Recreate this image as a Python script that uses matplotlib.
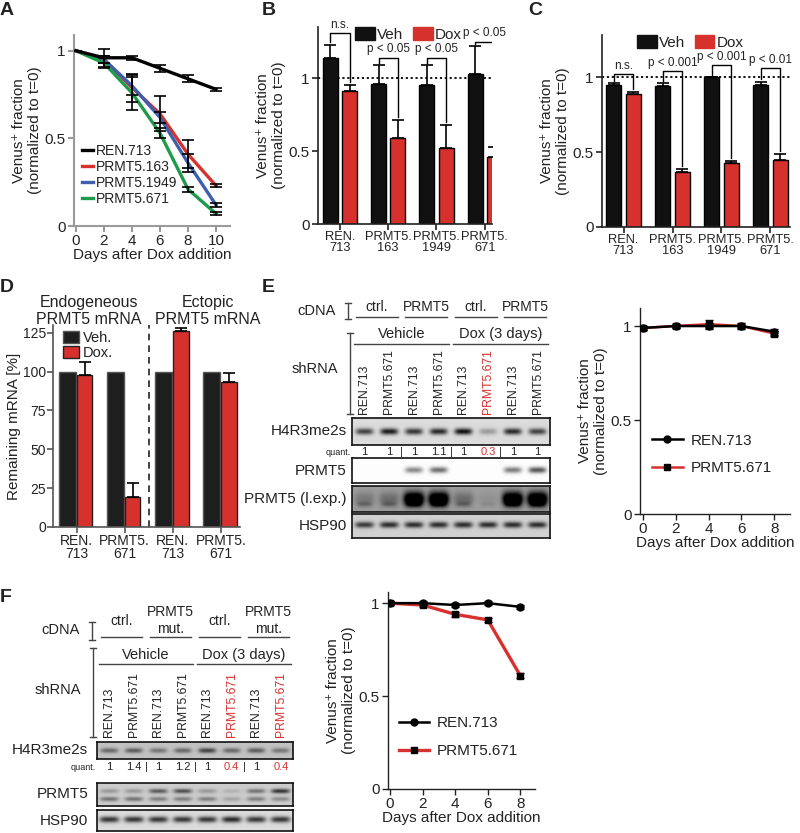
import numpy as np
import matplotlib
matplotlib.use("Agg")
import matplotlib.pyplot as plt
from matplotlib.patches import Patch
from matplotlib.lines import Line2D

plt.rcParams['font.family'] = ['Liberation Sans', 'DejaVu Sans']
plt.rcParams['text.color'] = '#222222'
plt.rcParams['axes.labelcolor'] = '#222222'
plt.rcParams['xtick.color'] = '#222222'
plt.rcParams['ytick.color'] = '#222222'

RED = '#d7312e'
BLUE = '#3d5fae'
GREEN = '#1e9b4a'

# ---- panel A: competition assay time course ----
a_days = [0, 2, 4, 6, 8, 10]
a_names = ["REN.713", "PRMT5.163", "PRMT5.1949", "PRMT5.671"]
a_ren = [1.0, 0.96, 0.96, 0.90, 0.84, 0.78]
a_163 = [1.0, 0.95, 0.79, 0.64, 0.41, 0.23]
a_1949 = [1.0, 0.95, 0.80, 0.62, 0.36, 0.12]
a_671 = [1.0, 0.93, 0.76, 0.53, 0.21, 0.07]
a_ren_err = [0, 0.05, 0.01, 0.02, 0.02, 0.01]
a_163_err = [0, 0.02, 0.08, 0.10, 0.08, 0.01]
a_1949_err = [0, 0.02, 0.05, 0.03, 0.05, 0.01]
a_671_err = [0, 0.03, 0.10, 0.03, 0.015, 0.01]

# ---- panels B / C: bars ----
bc_groups = ["REN.\n713", "PRMT5.\n163", "PRMT5.\n1949", "PRMT5.\n671"]
b_veh = [1.14, 0.96, 0.95, 1.03]
b_veh_err = [0.09, 0.13, 0.14, 0.19]
b_dox = [0.91, 0.59, 0.52, 0.46]
b_dox_err = [0.04, 0.12, 0.16, 0.07]
b_pvals = ["n.s.", "p < 0.05", "p < 0.05", "p < 0.05"]
b_brk = [1.31, 1.14, 1.14, 1.25]

c_veh = [0.95, 0.94, 1.00, 0.95]
c_veh_err = [0.01, 0.02, 0.0, 0.02]
c_dox = [0.89, 0.37, 0.43, 0.45]
c_dox_err = [0.01, 0.02, 0.01, 0.04]
c_pvals = ["n.s.", "p < 0.001", "p < 0.001", "p < 0.01"]
c_brk = [1.02, 1.04, 1.08, 1.06]

# ---- panel D: mRNA ----
d_groups = ["REN.\n713", "PRMT5.\n671", "REN.\n713", "PRMT5.\n671"]
d_veh = [100, 100, 100, 100]
d_dox = [98, 19, 126, 93]
d_dox_err = [8, 9, 2, 6]

# ---- panels E / F: lines ----
ef_days = [0, 2, 4, 6, 8]
e_ren = [0.99, 1.0, 1.0, 1.0, 0.97]
e_ren_err = [0.01, 0.01, 0.015, 0.01, 0.015]
e_671 = [0.99, 1.0, 1.01, 1.0, 0.96]
e_671_err = [0.01, 0.01, 0.02, 0.015, 0.015]
f_ren = [1.0, 1.0, 0.99, 1.0, 0.98]
f_ren_err = [0.01, 0.01, 0.01, 0.01, 0.01]
f_671 = [1.0, 0.99, 0.94, 0.91, 0.61]
f_671_err = [0.01, 0.01, 0.015, 0.01, 0.015]

# ---- blots ----
lanes = ["REN.713", "PRMT5.671"] * 4
e_cdna = ["ctrl.", "PRMT5", "ctrl.", "PRMT5"]
f_cdna = ["ctrl.", "PRMT5\nmut.", "ctrl.", "PRMT5\nmut."]
treat = ["Vehicle", "Dox (3 days)"]
e_red_lanes = [5]
f_red_lanes = [5, 7]
e_quant = ["1", "1", "1", "1.1", "1", "0.3", "1", "1"]
f_quant = ["1", "1.4", "1", "1.2", "1", "0.4", "1", "0.4"]
e_h4 = [0.6, 0.75, 0.65, 0.7, 0.8, 0.25, 0.7, 0.6]
e_prmt5 = [0, 0, 0.45, 0.55, 0, 0, 0.5, 0.65]
e_lexp_hi = [0.15, 0.2, 0.95, 0.95, 0.2, 0.05, 0.95, 0.95]
e_lexp_lo = [0.15, 0.15, 0.3, 0.3, 0.15, 0.05, 0.3, 0.3]
e_hsp90 = [0.6, 0.65, 0.65, 0.65, 0.65, 0.65, 0.65, 0.65]
f_h4 = [0.35, 0.4, 0.3, 0.35, 0.5, 0.35, 0.4, 0.3]
f_prmt5_hi = [0.2, 0.2, 0.45, 0.5, 0.2, 0.1, 0.35, 0.6]
f_prmt5_lo = [0.35, 0.35, 0.3, 0.3, 0.3, 0.15, 0.3, 0.25]
f_hsp90 = [0.65, 0.65, 0.65, 0.65, 0.65, 0.7, 0.65, 0.65]

W, H = 800, 833
fig = plt.figure(figsize=(W / 100, H / 100), dpi=100)


def px_axes(l, t, r, b):
    return fig.add_axes([l / W, 1 - b / H, (r - l) / W, (b - t) / H])


def style(ax, color='#222222', lw=1.2):
    for s in ['top', 'right']:
        ax.spines[s].set_visible(False)
    for s in ['left', 'bottom']:
        ax.spines[s].set_color(color)
        ax.spines[s].set_linewidth(lw)
    ax.tick_params(direction='out', length=4, width=lw, color=color, labelsize=11, pad=2)


ylab = "Venus\u207a fraction\n(normalized to t=0)"

# ---- A ----
ax = px_axes(74, 35, 230, 226)
series = [(a_ren, a_ren_err, 'k'), (a_163, a_163_err, RED),
          (a_1949, a_1949_err, BLUE), (a_671, a_671_err, GREEN)]
for (vals, err, col), name in zip(series, a_names):
    ax.plot(a_days, vals, color=col, lw=2.4, label=name, zorder=3 if col == 'k' else 2)
    ax.errorbar(a_days, vals, yerr=err, fmt='none', ecolor='k', capsize=4,
                elinewidth=1.2, capthick=1.2, zorder=4)
ax.set_xlim(-0.14, 11)
ax.set_ylim(0, 1.09)
ax.set_xticks(a_days)
ax.set_yticks([0, 0.5, 1])
ax.set_yticklabels(["0", "0.5", "1"])
style(ax, color='#9a9a9a', lw=1.5)
ax.set_xlabel("Days after Dox addition", fontsize=11, labelpad=0)
ax.set_ylabel(ylab, fontsize=11, labelpad=2)
ax.legend(frameon=False, loc='lower left', bbox_to_anchor=(0.0, 0.06), fontsize=10,
          handlelength=0.8, handletextpad=0.15, labelspacing=0.15, borderaxespad=0.2)


def bar_panel(box, veh, veh_err, dox, dox_err, pvals, brk, ymax, xlim, leg_x):
    ax = px_axes(*box)
    x = np.arange(len(veh))
    ax.bar(x - 0.2, veh, width=0.31, color='#111111', edgecolor='k', lw=1, zorder=2)
    ax.bar(x + 0.2, dox, width=0.31, color=RED, edgecolor='k', lw=1, zorder=2)
    ax.errorbar(x - 0.2, veh, yerr=[np.zeros(len(veh)), veh_err], fmt='none', ecolor='k',
                capsize=4, elinewidth=1.2, capthick=1.2, zorder=3)
    ax.errorbar(x + 0.2, dox, yerr=[np.zeros(len(dox)), dox_err], fmt='none', ecolor='k',
                capsize=4, elinewidth=1.2, capthick=1.2, zorder=3)
    ax.axhline(1, ls=(0, (1.2, 1.5)), color='k', lw=1.3, zorder=1)
    for i in range(len(veh)):
        lt = veh[i] + veh_err[i] + 0.015
        rt = dox[i] + dox_err[i] + 0.02
        ax.plot([i - 0.2, i - 0.2, i + 0.2, i + 0.2], [lt, brk[i], brk[i], rt],
                color='k', lw=1, zorder=4)
        ax.text(i, brk[i] + 0.015, pvals[i], ha='center', va='bottom', fontsize=8.5)
    ax.set_ylim(0, ymax)
    ax.set_xlim(*xlim)
    ax.set_xticks(x)
    ax.set_xticklabels(bc_groups, linespacing=0.95)
    ax.set_yticks([0, 0.5, 1])
    ax.set_yticklabels(["0", "0.5", "1"])
    style(ax)
    ax.tick_params(axis='x', labelsize=9.3, pad=1)
    ax.set_ylabel(ylab, fontsize=11, labelpad=2)
    ax.legend(handles=[Patch(fc='#111111', ec='#111111'), Patch(fc=RED, ec=RED)],
              labels=["Veh", "Dox"], ncol=2, frameon=False, loc='upper center',
              bbox_to_anchor=(leg_x, 1.03), fontsize=11, handlelength=1.3,
              handleheight=0.9, handletextpad=0.15, columnspacing=0.6, borderaxespad=0)
    return ax


bar_panel((318, 27, 492, 224), b_veh, b_veh_err, b_dox, b_dox_err, b_pvals, b_brk,
          1.35, (-0.455, 3.15), 0.52)
bar_panel((602, 35, 790, 227), c_veh, c_veh_err, c_dox, c_dox_err, c_pvals, c_brk,
          1.28, (-0.44, 3.4), 0.47)

# ---- D ----
ax = px_axes(53, 325, 240, 527)
x = np.arange(len(d_veh))
ax.bar(x - 0.19, d_veh, width=0.36, color='#1e1e1e', edgecolor='#555555', lw=1, zorder=2,
       label="Veh.")
ax.bar(x + 0.17, d_dox, width=0.32, color=RED, edgecolor='#222222', lw=1, zorder=2,
       label="Dox.")
ax.errorbar(x + 0.17, d_dox, yerr=[np.zeros(4), d_dox_err], fmt='none', ecolor='k',
            capsize=4, elinewidth=1.2, capthick=1.2, zorder=3)
ax.axvline(1.5, ls=(0, (4, 3)), color='#222222', lw=1.2)
ax.set_ylim(0, 130)
ax.set_xlim(-0.49, 3.4)
ax.set_xticks(x)
ax.set_xticklabels(d_groups, linespacing=0.95)
ax.set_yticks([0, 25, 50, 75, 100, 125])
style(ax, color='#555555')
ax.tick_params(labelsize=10, pad=1)
ax.set_ylabel("Remaining mRNA [%]", fontsize=11, labelpad=1)
ax.legend(frameon=False, loc='upper left', bbox_to_anchor=(0.02, 1.0), fontsize=10.5,
          handlelength=1.1, handleheight=0.9, handletextpad=0.3, labelspacing=0.1,
          borderaxespad=0)


def line_panel(box, ren, ren_err, sh, sh_err, xlim, ymax, leg_anchor, red_lw):
    ax = px_axes(*box)
    ax.errorbar(ef_days, sh, yerr=sh_err, color=RED, lw=red_lw, marker='s', ms=5,
                mfc='k', mec='k', ecolor='k', capsize=3, zorder=2)
    ax.errorbar(ef_days, ren, yerr=ren_err, color='k', lw=1.8, marker='o', ms=5,
                ecolor='k', capsize=3, zorder=3)
    ax.set_xlim(*xlim)
    ax.set_ylim(0, ymax)
    ax.set_xticks(ef_days)
    ax.set_yticks([0, 0.5, 1])
    ax.set_yticklabels(["0", "0.5", "1"])
    style(ax, lw=1)
    ax.set_xlabel("Days after Dox addition", fontsize=11, labelpad=0)
    ax.set_ylabel(ylab, fontsize=11, labelpad=2)
    hs = [Line2D([], [], color='k', lw=1.8, marker='o', ms=5),
          Line2D([], [], color=RED, lw=red_lw, marker='s', ms=5, mfc='k', mec='k')]
    ax.legend(hs, ["REN.713", "PRMT5.671"], frameon=False, loc='upper left',
              bbox_to_anchor=leg_anchor, fontsize=11, handlelength=2.0, handletextpad=0.5,
              labelspacing=0.9, borderaxespad=0)
    return ax


line_panel((640, 308, 790, 514), e_ren, e_ren_err, e_671, e_671_err, (-0.18, 8.96), 1.096,
           (0.04, 0.42), 1.8)
line_panel((388, 592, 535, 789), f_ren, f_ren_err, f_671, f_671_err, (-0.12, 8.9), 1.06,
           (0.03, 0.40), 2.4)


def blot(box, rows, bg):
    ax = px_axes(*box)
    xs = np.linspace(0.5, 8.5, 500)
    ys = np.linspace(0, 1, 80)
    X, Y = np.meshgrid(xs, ys)
    img = np.full(X.shape, bg)
    for yc, hw, wid, vals in rows:
        for i, v in enumerate(vals):
            img -= v * np.exp(-np.abs((X - (i + 1)) / wid) ** 4) * np.exp(-((Y - yc) / hw) ** 2)
    ax.imshow(np.clip(img, 0, 1), cmap='gray', vmin=0, vmax=1, extent=(0.5, 8.5, 0, 1),
              aspect='auto', origin='lower', interpolation='bilinear')
    ax.set_xticks([])
    ax.set_yticks([])
    for s in ax.spines.values():
        s.set_linewidth(1.2)
        s.set_color('#111111')
    return ax


def header(box, cdna, red_lanes, quant, y):
    hd = px_axes(*box)
    hd.set_xlim(0.5, 8.5)
    hd.set_ylim(box[3], box[1])
    hd.axis('off')
    pairs = np.arange(1.5, 9, 2)
    for c, lab in zip(pairs, cdna):
        lines = lab.split("\n")
        if len(lines) == 2:
            hd.text(c, y['cdna2'][0], lines[0], ha='center', va='center', fontsize=10)
            hd.text(c, y['cdna2'][1], lines[1], ha='center', va='center', fontsize=10)
        else:
            hd.text(c, y['cdna'], lab, ha='center', va='center', fontsize=10)
        hd.plot([c - 0.85, c + 0.85], [y['cline']] * 2, color='#444444', lw=1, clip_on=False)
    for c, lab in zip([2.5, 6.5], treat):
        hd.text(c, y['treat'], lab, ha='center', va='center', fontsize=10.5)
        hd.plot([c - 1.9, c + 1.9], [y['tline']] * 2, color='#444444', lw=1, clip_on=False)
    for i, lab in enumerate(lanes):
        hd.text(i + 1, y['lane'], lab, rotation=90, ha='center', va='bottom', fontsize=8.8,
                color=RED if i in red_lanes else '#222222')
    hd.text(0.45, y['quant'], "quant.", ha='right', va='center', fontsize=6.5)
    for i, q in enumerate(quant):
        hd.text(i + 1, y['quant'], q, ha='center', va='center', fontsize=8,
                color=RED if i in red_lanes else '#222222')
    for s in [2.5, 4.5, 6.5]:
        hd.text(s, y['quant'], "|", ha='center', va='center', fontsize=8)
    return hd


# ---- E blots ----
header((352, 295, 550, 560), e_cdna, e_red_lanes, e_quant,
       dict(cdna=307, cdna2=(300, 314), cline=317, treat=334, tline=344, lane=414, quant=452))
blot((352, 418, 550, 445), [(0.5, 0.12, 0.36, e_h4)], 0.86)
blot((352, 458, 550, 483), [(0.5, 0.12, 0.36, e_prmt5)], 0.99)
blot((352, 486, 550, 512), [(0.5, 0.28, 0.42, e_lexp_hi), (0.3, 0.1, 0.3, e_lexp_lo)], 0.62)
blot((352, 514, 550, 538), [(0.55, 0.13, 0.38, e_hsp90)], 0.82)

# ---- F blots ----
header((97, 600, 293, 775), f_cdna, f_red_lanes, f_quant,
       dict(cdna=621, cdna2=(612, 629), cline=637, treat=655, tline=664, lane=737, quant=767))
blot((97, 742, 293, 759), [(0.5, 0.15, 0.36, f_h4)], 0.76)
blot((97, 783, 293, 806), [(0.65, 0.1, 0.38, f_prmt5_hi), (0.3, 0.1, 0.38, f_prmt5_lo)], 0.8)
blot((97, 810, 293, 831), [(0.55, 0.15, 0.4, f_hsp90)], 0.86)

# ---- overlay text in pixel coords ----
ov = fig.add_axes([0, 0, 1, 1])
ov.set_xlim(0, W)
ov.set_ylim(H, 0)
ov.axis('off')
for lab, px, py in [("A", 0, 10), ("B", 262, 10), ("C", 528, 10), ("D", 0, 288),
                    ("E", 262, 288), ("F", 0, 598)]:
    ov.text(px, py, lab, fontsize=14, fontweight='bold', ha='left', va='center')

ov.text(89, 311, "Endogeneous\nPRMT5 mRNA", ha='center', va='center', fontsize=11.5,
        linespacing=1.25)
ov.text(208, 311, "Ectopic\nPRMT5 mRNA", ha='center', va='center', fontsize=11.5,
        linespacing=1.25)


def bracket(x, y0, y1):
    ov.plot([x, x], [y0, y1], color='#444444', lw=1)
    ov.plot([x - 3, x + 3], [y0, y0], color='#444444', lw=1)
    ov.plot([x - 3, x + 3], [y1, y1], color='#444444', lw=1)


ov.text(336, 311, "cDNA", ha='right', va='center', fontsize=10.5)
bracket(348, 303, 319)
ov.text(338, 369, "shRNA", ha='right', va='center', fontsize=10.5)
bracket(350, 333, 414)
for lab, py in [("H4R3me2s", 431), ("PRMT5", 471), ("PRMT5 (l.exp.)", 499), ("HSP90", 526)]:
    ov.text(347, py, lab, ha='right', va='center', fontsize=11)

ov.text(80, 630, "cDNA", ha='right', va='center', fontsize=10.5)
bracket(92, 622, 640)
ov.text(81, 690, "shRNA", ha='right', va='center', fontsize=10.5)
bracket(93, 648, 737)
for lab, py in [("H4R3me2s", 750), ("PRMT5", 794), ("HSP90", 821)]:
    ov.text(88, py, lab, ha='right', va='center', fontsize=11)

fig.savefig("out.png", dpi=100)
